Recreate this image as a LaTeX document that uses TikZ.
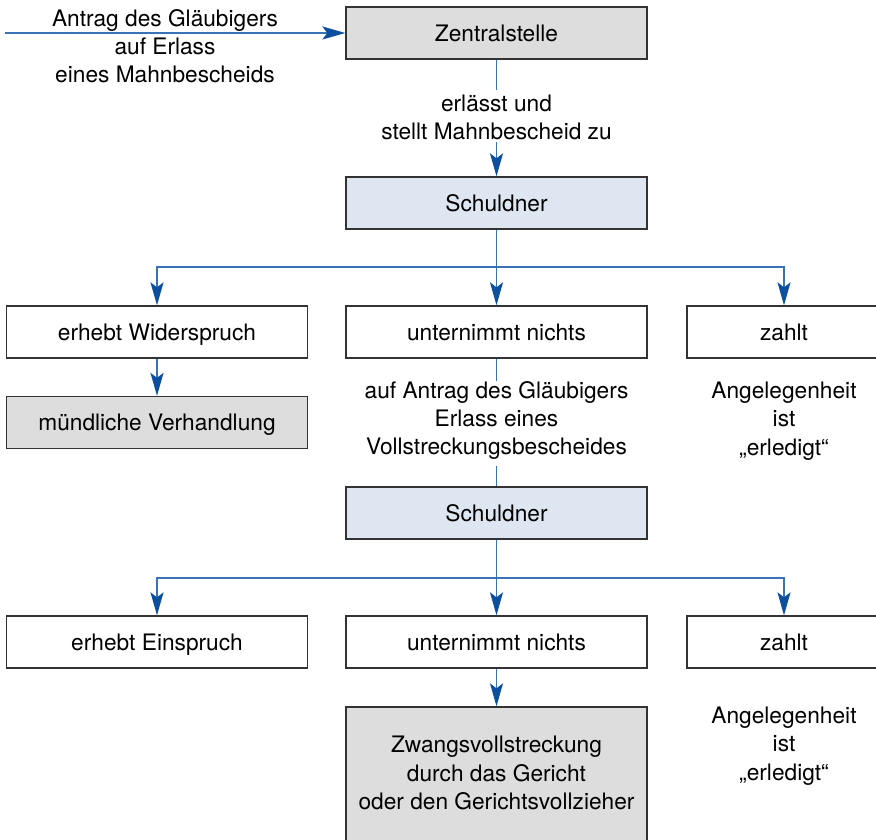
\documentclass[tikz,border=0pt]{standalone}
\usepackage{fontspec}
\setmainfont{TeX Gyre Heros}
\usetikzlibrary{arrows.meta}
\definecolor{linkblue}{HTML}{3A72B6}
\definecolor{tipblue}{HTML}{0B4F9E}
\definecolor{boxgray}{HTML}{DDDDDD}
\definecolor{boxblue}{HTML}{DEE7F1}
\definecolor{edge}{HTML}{333333}
\begin{document}
\begin{tikzpicture}[x=1pt,y=-1pt,
  every node/.style={font=\fontsize{22.7}{28.3}\selectfont, inner sep=0pt},
  box/.style={draw=edge, line width=1.3pt, rectangle, minimum width=301pt, minimum height=52pt, text height=16.5pt, text depth=0pt},
  graybox/.style={box, fill=boxgray},
  bluebox/.style={box, fill=boxblue},
  whitebox/.style={box, fill=white},
  txt/.style={align=center},
  link/.style={draw=linkblue, line width=1.5pt},
  arr/.style={link, -{Stealth[length=23pt,width=13pt,inset=5pt,color=tipblue]}}
]
\useasboundingbox (0,0) rectangle (876,840);
\clip (0,0) rectangle (876,840);

% nodes
\node[graybox] (zs) at (496.5,33) {Zentralstelle};
\node[bluebox] (s1) at (496.5,203) {Schuldner};
\node[whitebox] (r1l) at (157,332) {erhebt Widerspruch};
\node[whitebox] (r1m) at (496.5,332) {unternimmt nichts};
\node[whitebox, minimum width=194pt] (r1r) at (784,332) {zahlt};
\node[graybox] (mv) at (157,422.5) {mündliche Verhandlung};
\node[bluebox] (s2) at (496.5,513) {Schuldner};
\node[whitebox] (r2l) at (157,642) {erhebt Einspruch};
\node[whitebox] (r2m) at (496.5,642) {unternimmt nichts};
\node[whitebox, minimum width=194pt] (r2r) at (784,642) {zahlt};
\node[graybox, minimum height=136pt] (zv) at (496.5,775) {};
\node[txt] (zvt) at (496.5,773) {Zwangsvollstreckung\\durch das Gericht\\oder den Gerichtsvollzieher};

% texts
\node[txt] (tin) at (165,46) {Antrag des Gläubigers\\auf Erlass\\eines Mahnbescheids};
\node[txt] (t1) at (496.5,117.5) {erlässt und\\stellt Mahnbescheid zu};
\node[txt] (t2) at (496.5,420.5) {auf Antrag des Gläubigers\\Erlass eines\\Vollstreckungsbescheides};
\node[txt] (t3) at (784,421) {Angelegenheit\\ist\\„erledigt“};
\node[txt] (t4) at (784,746) {Angelegenheit\\ist\\„erledigt“};

% coordinates
\coordinate (in) at (5,33);
\coordinate (a1) at (496.5,90);
\coordinate (a2) at (496.5,142);
\coordinate (h1) at (496.5,267);
\coordinate (b1) at (496.5,381);
\coordinate (b2) at (496.5,466);
\coordinate (h2) at (496.5,578);

% connectors
\draw[arr] (in) -- (zs.west);
\draw[link] (zs.south) -- (a1);
\draw[arr] (a2) -- (s1.north);
\draw[arr] (s1.south) -- (r1m.north);
\draw[arr] (h1) -| (r1l.north);
\draw[arr] (h1) -| (r1r.north);
\draw[arr] (r1l.south) -- (mv.north);
\draw[link] (r1m.south) -- (b1);
\draw[link] (b2) -- (s2.north);
\draw[arr] (s2.south) -- (r2m.north);
\draw[arr] (h2) -| (r2l.north);
\draw[arr] (h2) -| (r2r.north);
\draw[arr] (r2m.south) -- (zv.north);
\end{tikzpicture}
\end{document}
